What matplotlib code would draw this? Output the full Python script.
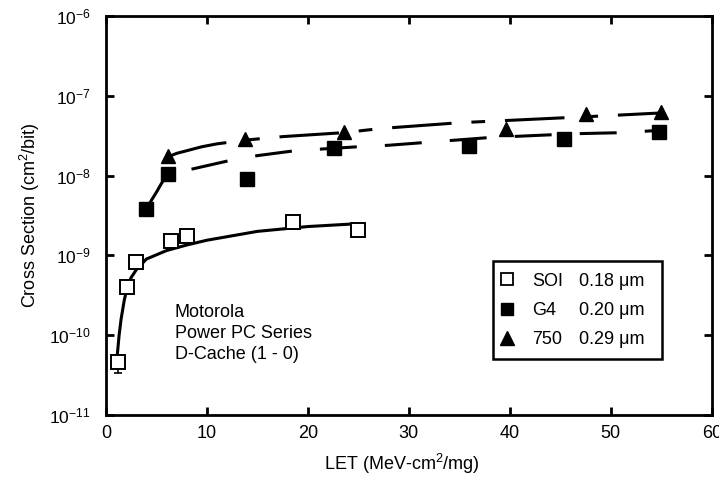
import numpy as np
import matplotlib.pyplot as plt
from matplotlib.lines import Line2D
from matplotlib.patches import Rectangle

plt.rcParams["font.family"] = ["Liberation Sans", "DejaVu Sans"]
plt.rcParams["mathtext.default"] = "regular"

# measured points, LET (MeV-cm2/mg) vs cross section (cm2/bit)
soi_let = [1.2, 2.1, 3.0, 6.4, 8.0, 18.5, 25.0]
soi_xs = [4.6e-11, 4.0e-10, 8.2e-10, 1.5e-9, 1.75e-9, 2.6e-9, 2.1e-9]
soi_err_lo = [1.2e-11, 0, 0, 0, 0, 0, 0]

g4_let = [4.0, 6.1, 14.0, 22.6, 36.0, 45.4, 54.8]
g4_xs = [3.8e-9, 1.05e-8, 9.0e-9, 2.2e-8, 2.35e-8, 2.9e-8, 3.5e-8]

t750_let = [6.1, 13.8, 23.6, 39.6, 47.5, 55.0]
t750_xs = [1.75e-8, 2.9e-8, 3.5e-8, 3.8e-8, 5.9e-8, 6.3e-8]

# fitted curves
soi_fit_let = [1.1, 1.3, 1.5, 1.8, 2.1, 2.5, 3.0, 4.0, 6.0, 8.0, 10.0, 15.0, 20.0, 25.0]
soi_fit_xs = [5.3e-11, 1.0e-10, 1.6e-10, 2.7e-10, 4.0e-10, 5.3e-10, 6.6e-10,
              9.0e-10, 1.15e-9, 1.35e-9, 1.55e-9, 2.0e-9, 2.3e-9, 2.5e-9]

g4_fit_let = [4.0, 4.5, 5.0, 5.5, 6.1, 8.8, 12.3, 15.0, 18.7, 25.0, 28.0, 38.0, 46.5, 51.0, 55.0]
g4_fit_xs = [3.8e-9, 4.9e-9, 6.2e-9, 8.0e-9, 1.03e-8, 1.23e-8, 1.55e-8, 1.78e-8, 2.05e-8,
             2.3e-8, 2.4e-8, 3.0e-8, 3.35e-8, 3.45e-8, 3.7e-8]

t750_fit_let = [6.2, 7.0, 8.0, 9.5, 11.0, 14.0, 17.5, 23.5, 27.3, 35.0, 48.0, 55.0]
t750_fit_xs = [1.73e-8, 1.9e-8, 2.05e-8, 2.3e-8, 2.5e-8, 2.8e-8, 3.08e-8, 3.45e-8,
               3.9e-8, 4.6e-8, 5.5e-8, 6.1e-8]

legend_names = ["SOI", "G4", "750"]
legend_sizes = ["0.18 μm", "0.20 μm", "0.29 μm"]

fig = plt.figure(figsize=(7.19, 4.79), dpi=100)
ax = fig.add_axes([0.1474, 0.1336, 0.8426, 0.833])

lw = 2.2
ax.plot(soi_fit_let, soi_fit_xs, color="black", lw=lw, solid_capstyle="butt")
ax.plot(g4_fit_let, g4_fit_xs, color="black", lw=lw, linestyle=(0, (12.1, 9.2)))
ax.plot(t750_fit_let, t750_fit_xs, color="black", lw=lw,
        linestyle=(0, (19.5, 6.5, 4.5, 6.5)))

ax.errorbar(soi_let, soi_xs, yerr=[soi_err_lo, [0] * len(soi_xs)], fmt="none",
            ecolor="black", elinewidth=1.2, capsize=3, capthick=1.2)
ax.plot(soi_let, soi_xs, "s", ms=9.5, mfc="white", mec="black", mew=1.4, ls="none", zorder=5)
ax.plot(g4_let, g4_xs, "s", ms=9.5, mfc="black", mec="black", ls="none", zorder=5)
ax.plot(t750_let, t750_xs, "^", ms=10.5, mfc="black", mec="black", ls="none", zorder=5)

ax.text(6.8, 2.45e-10, "Motorola\nPower PC Series\nD-Cache (1 - 0)", fontsize=13,
        va="top", ha="left", linespacing=1.3)

ax.set_yscale("log")
ax.set_xlim(0, 60)
ax.set_ylim(1e-11, 1e-6)
ax.set_xticks(np.arange(0, 61, 10))
ax.set_yticks([1e-11, 1e-10, 1e-9, 1e-8, 1e-7, 1e-6])
ax.minorticks_off()
ax.tick_params(direction="in", length=6, width=2, top=True, right=True)
ax.tick_params(axis="x", labelsize=13, pad=7)
ax.tick_params(axis="y", labelsize=12.5, pad=11)
for s in ax.spines.values():
    s.set_linewidth(2)

ax.set_xlabel("LET (MeV-cm$^2$/mg)", fontsize=13)
ax.set_ylabel("Cross Section (cm$^2$/bit)", fontsize=13)
ax.xaxis.set_label_coords(0.488, -0.093)
ax.yaxis.set_label_coords(-0.106, 0.5)

# legend: frame drawn separately to match the original's padding
ax.add_patch(Rectangle((0.6386, 0.1404), 0.2789, 0.2456, transform=ax.transAxes,
                       fill=False, edgecolor="black", lw=1.8, zorder=6))
handles = [
    Line2D([], [], marker="s", ms=8.5, mfc="white", mec="black", mew=1.3, ls="none"),
    Line2D([], [], marker="s", ms=8.5, mfc="black", mec="black", ls="none"),
    Line2D([], [], marker="^", ms=9.5, mfc="black", mec="black", ls="none"),
]
blank = [Line2D([], [], ls="none") for _ in range(3)]
ax.legend(handles + blank, legend_names + legend_sizes, ncol=2,
          loc="upper left", bbox_to_anchor=(0.650, 0.357), fontsize=13,
          frameon=False, handlelength=0.8, handletextpad=1.0,
          columnspacing=-0.95, labelspacing=0.68, borderpad=0, borderaxespad=0)

fig.savefig("out.png", dpi=100)
